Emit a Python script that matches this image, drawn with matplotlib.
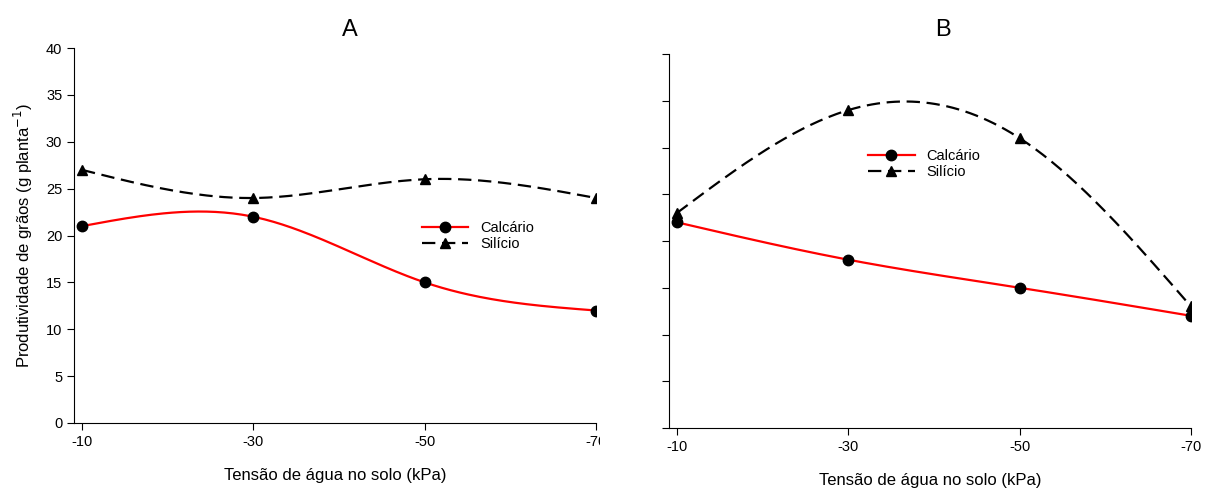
import numpy as np
import matplotlib
matplotlib.use('Agg')
import matplotlib.pyplot as plt
from matplotlib.transforms import Bbox

plt.rcParams['font.family'] = ['Liberation Sans', 'DejaVu Sans']

# 토양 수분 장력 (kPa)
tensao = [-10, -30, -50, -70]
tick_labels = ['-10', '-30', '-50', '-70']

# 패널 A
calcario_a = [21, 22, 15, 12]
silicio_a = [27, 24, 26, 24]

# 패널 B
calcario_b = [22, 18, 15, 12]
silicio_b = [23, 34, 31, 13]

fig = plt.figure(figsize=(12.08, 4.91), dpi=100)
ax_a = fig.add_axes([0.0613, 0.1385, 0.4321, 0.7637])
ax_b = fig.add_axes([0.5538, 0.1283, 0.4321, 0.7617])


def smooth(x, y):
    # 자연 3차 스플라인 곡선
    x = np.asarray(x, float)
    y = np.asarray(y, float)
    n = len(x)
    h = np.diff(x)
    A = np.zeros((n, n))
    b = np.zeros(n)
    A[0, 0] = A[-1, -1] = 1
    for i in range(1, n - 1):
        A[i, i - 1] = h[i - 1]
        A[i, i] = 2 * (h[i - 1] + h[i])
        A[i, i + 1] = h[i]
        b[i] = 6 * ((y[i + 1] - y[i]) / h[i] - (y[i] - y[i - 1]) / h[i - 1])
    M = np.linalg.solve(A, b)
    xs_all, ys_all = [], []
    for i in range(n - 1):
        t = np.linspace(x[i], x[i + 1], 60)
        a = x[i + 1] - t
        c = t - x[i]
        s = (M[i] * a ** 3 + M[i + 1] * c ** 3) / (6 * h[i]) \
            + (y[i] / h[i] - M[i] * h[i] / 6) * a \
            + (y[i + 1] / h[i] - M[i + 1] * h[i] / 6) * c
        xs_all.append(t)
        ys_all.append(s)
    return np.concatenate(xs_all), np.concatenate(ys_all)


def draw(ax, calc, sil, leg_pos):
    xs, ys = smooth(tensao, calc)
    ax.plot(xs, ys, color='red', lw=1.6, zorder=2)
    xs, ys = smooth(tensao, sil)
    ax.plot(xs, ys, color='black', lw=1.6, dashes=(6, 3), zorder=2)
    ax.plot(tensao, calc, 'o', color='black', ms=7.5, zorder=3)
    ax.plot(tensao, sil, '^', color='black', ms=7, zorder=3)
    # 범례용 핸들
    h1, = ax.plot([], [], color='red', lw=1.6, marker='o', mfc='black', mec='black', ms=7.5)
    h2, = ax.plot([], [], color='black', lw=1.6, dashes=(6, 3), marker='^', mfc='black', mec='black', ms=7)
    ax.legend([h1, h2], ['Calcário', 'Silício'], frameon=False, fontsize=10.5,
              loc='center left', bbox_to_anchor=leg_pos, handlelength=3.2,
              labelspacing=0.15, borderaxespad=0, handletextpad=0.8)
    ax.set_xlim(-9.07, -70)
    ax.set_ylim(0, 40)
    ax.set_xticks(tensao)
    ax.set_xticklabels(tick_labels)
    ax.set_yticks(np.arange(0, 41, 5))
    ax.spines['top'].set_visible(False)
    ax.spines['right'].set_visible(False)
    ax.tick_params(direction='out', length=5, labelsize=10.5)
    ax.set_xlabel('Tensão de água no solo (kPa)', fontsize=12, labelpad=14)


draw(ax_a, calcario_a, silicio_a, (0.655, 0.498))
draw(ax_b, calcario_b, silicio_b, (0.37, 0.705))

fig.text(350 / 1208, 1 - 30 / 491, 'A', fontsize=17, ha='center', va='center')
fig.text(943 / 1208, 1 - 30 / 491, 'B', fontsize=17, ha='center', va='center')

ax_a.set_ylabel('Produtividade de grãos (g planta$^{-1}$)', fontsize=12, labelpad=8)
ax_b.set_yticklabels([])

# 패널 A의 -70 라벨은 원본처럼 잘림
lab = ax_a.xaxis.get_major_ticks()[-1].label1
lab.set_clip_on(True)
lab.set_clip_box(Bbox.from_extents(0, 0, 600, 491))

fig.savefig('out.png', dpi=100)
